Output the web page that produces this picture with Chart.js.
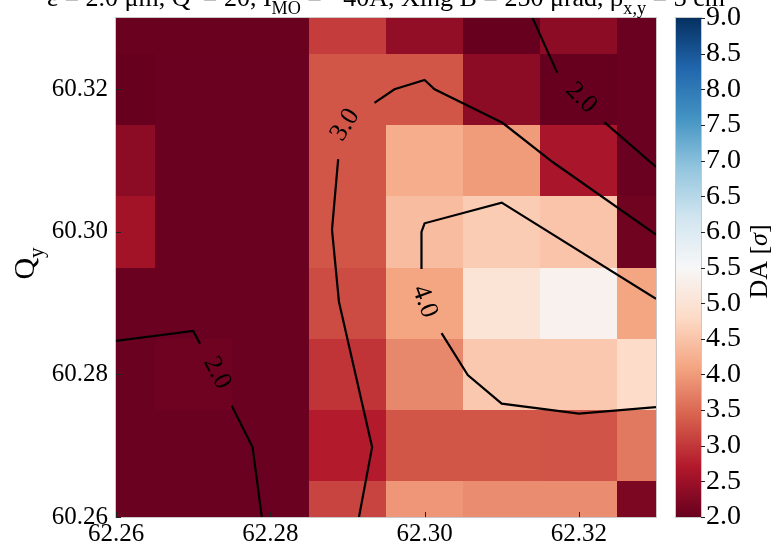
<!DOCTYPE html>
<html>
<head>
<meta charset="utf-8">
<script src="https://cdn.jsdelivr.net/npm/chart.js@4.4.1/dist/chart.umd.min.js"></script>
<style>
  html, body { margin: 0; padding: 0; background: #fff; }
  #wrap { width: 776px; height: 544px; }
</style>
</head>
<body>
<div id="wrap"><canvas id="myChart" width="776" height="544"></canvas></div>
<script>
const qx = [62.26, 62.27, 62.28, 62.29, 62.30, 62.31, 62.32, 62.33];
const qy = [60.26, 60.27, 60.28, 60.29, 60.30, 60.31, 60.32, 60.33];

// DA [sigma], one row per qy (bottom to top), one value per qx
const da = [
  [2.04, 2.04, 2.04, 3.13, 3.95, 3.85, 3.85, 2.20],
  [2.04, 2.04, 2.04, 2.72, 3.30, 3.30, 3.28, 3.65],
  [2.04, 2.07, 2.04, 2.97, 3.80, 4.55, 4.55, 4.85],
  [2.04, 2.04, 2.04, 3.20, 4.10, 5.00, 5.35, 4.10],
  [2.55, 2.04, 2.04, 3.30, 4.40, 4.60, 4.50, 2.08],
  [2.35, 2.04, 2.04, 3.30, 4.20, 4.00, 2.62, 2.04],
  [2.00, 2.04, 2.04, 3.30, 3.30, 2.35, 2.00, 2.04],
  [2.02, 2.02, 2.02, 3.05, 2.40, 2.00, 2.35, 2.04]
];

const xTicks = [62.26, 62.28, 62.30, 62.32];
const yTicks = [60.26, 60.28, 60.30, 60.32];
const cbTicks = [2.0, 2.5, 3.0, 3.5, 4.0, 4.5, 5.0, 5.5, 6.0, 6.5, 7.0, 7.5, 8.0, 8.5, 9.0];

// contour lines [Qx, Qy], split where the inline labels sit
const c2LeftA = [[62.26, 60.2847], [62.2700, 60.2861], [62.2709, 60.2843]];
const c2LeftB = [[62.2750, 60.2756], [62.2777, 60.2698], [62.2789, 60.26]];
const c2RightA = [[62.3140, 60.33], [62.3172, 60.3223]];
const c2RightB = [[62.3233, 60.3154], [62.33, 60.3091]];
const c3A = [[62.2915, 60.26], [62.2932, 60.2698], [62.2889, 60.2902], [62.2880, 60.3003], [62.2888, 60.3102]];
const c3B = [[62.2935, 60.3181], [62.2961, 60.3200], [62.3000, 60.3213], [62.3013, 60.3200], [62.3101, 60.3153], [62.3166, 60.3098], [62.33, 60.2996]];
const c4A = [[62.2996, 60.2948], [62.2996, 60.3000], [62.3000, 60.3012], [62.3100, 60.3041], [62.33, 60.2906]];
const c4B = [[62.3022, 60.2858], [62.3056, 60.2799], [62.3100, 60.2759], [62.3200, 60.2745], [62.33, 60.2754]];

const labelLevels = [3.0, 2.0, 2.0, 4.0];
const labelX = [62.2897, 62.2731, 62.3203, 62.3000];
const labelY = [60.3150, 60.2802, 60.3188, 60.2902];
const labelAngle = [-58, 63, 45, 70];

const serif = '"Liberation Serif", "DejaVu Serif", serif';
const rdbuStops = ['#67001f', '#b2182b', '#d6604d', '#f4a582', '#fddbc7', '#f7f7f7',
                   '#d1e5f0', '#92c5de', '#4393c3', '#2166ac', '#053061'];

function hex(c) {
  return [parseInt(c.slice(1, 3), 16), parseInt(c.slice(3, 5), 16), parseInt(c.slice(5, 7), 16)];
}

function rdbu(t) {
  t = Math.max(0, Math.min(1, t)) * 10;
  const i = Math.min(9, Math.floor(t));
  const f = t - i;
  const a = hex(rdbuStops[i]), b = hex(rdbuStops[i + 1]);
  const c = a.map((v, k) => Math.round(v + (b[k] - v) * f));
  return 'rgb(' + c.join(',') + ')';
}

// draw text pieces, some as subscripts, starting at x on baseline y
function drawRich(ctx, parts, x, y, size, align) {
  const w = parts.map(p => {
    ctx.font = (p.it ? 'italic ' : '') + (p.sub ? size * 0.7 : size) + 'px ' + serif;
    return ctx.measureText(p.t).width;
  });
  const total = w.reduce((s, v) => s + v, 0);
  let cx = align === 'center' ? x - total / 2 : x;
  parts.forEach((p, k) => {
    ctx.font = (p.it ? 'italic ' : '') + (p.sub ? size * 0.7 : size) + 'px ' + serif;
    ctx.fillText(p.t, cx, p.sub ? y + size * 0.3 : y);
    cx += w[k];
  });
}

const heatmap = {
  id: 'heatmap',
  beforeDatasetsDraw(chart) {
    const {ctx, chartArea: a, scales: {x, y}} = chart;
    ctx.save();
    ctx.beginPath();
    ctx.rect(a.left, a.top, a.right - a.left, a.bottom - a.top);
    ctx.clip();
    for (let j = 0; j < qy.length; j++) {
      for (let i = 0; i < qx.length; i++) {
        const x0 = Math.round(x.getPixelForValue(qx[i] - 0.005));
        const x1 = Math.round(x.getPixelForValue(qx[i] + 0.005));
        const y0 = Math.round(y.getPixelForValue(qy[j] + 0.005));
        const y1 = Math.round(y.getPixelForValue(qy[j] - 0.005));
        ctx.fillStyle = rdbu((da[j][i] - 2) / 7);
        ctx.fillRect(x0, y0, x1 - x0, y1 - y0);
      }
    }
    ctx.restore();
  },
  afterDatasetsDraw(chart) {
    const {ctx, scales: {x, y}} = chart;
    ctx.save();
    ctx.fillStyle = '#000';
    ctx.font = '26px ' + serif;
    ctx.textAlign = 'center';
    ctx.textBaseline = 'middle';
    labelLevels.forEach((lv, k) => {
      ctx.save();
      ctx.translate(x.getPixelForValue(labelX[k]), y.getPixelForValue(labelY[k]));
      ctx.rotate(labelAngle[k] * Math.PI / 180);
      ctx.fillText(lv.toFixed(1), 0, 0);
      ctx.restore();
    });
    ctx.restore();
  },
  afterDraw(chart) {
    const {ctx, chartArea: a, scales: {x, y, cb}} = chart;
    ctx.save();
    // frame
    ctx.strokeStyle = '#c8c8c8';
    ctx.lineWidth = 1;
    ctx.strokeRect(a.left - 0.5, a.top - 0.5, a.right - a.left + 1, a.bottom - a.top + 1);
    // inward ticks
    ctx.strokeStyle = '#222';
    ctx.beginPath();
    xTicks.forEach(v => {
      const px = Math.round(x.getPixelForValue(v)) + 0.5;
      ctx.moveTo(px, a.bottom); ctx.lineTo(px, a.bottom - 5);
    });
    yTicks.forEach(v => {
      const py = Math.round(y.getPixelForValue(v)) + 0.5;
      ctx.moveTo(a.left, py); ctx.lineTo(a.left + 5, py);
    });
    ctx.stroke();
    // colour bar
    const bx0 = a.right + 20, bx1 = a.right + 45;
    const top = cb.getPixelForValue(9), bot = cb.getPixelForValue(2);
    const g = ctx.createLinearGradient(0, bot, 0, top);
    rdbuStops.forEach((c, k) => g.addColorStop(k / 10, c));
    ctx.fillStyle = g;
    ctx.fillRect(bx0, top, bx1 - bx0, bot - top);
    ctx.strokeStyle = '#c8c8c8';
    ctx.strokeRect(bx0 - 0.5, top - 0.5, bx1 - bx0 + 1, bot - top + 1);
    ctx.strokeStyle = '#222';
    ctx.beginPath();
    cbTicks.forEach(v => {
      const py = Math.round(cb.getPixelForValue(v)) + 0.5;
      ctx.moveTo(bx1, py); ctx.lineTo(bx1 + 4, py);
    });
    ctx.stroke();
    // colour bar label
    ctx.fillStyle = '#000';
    ctx.textBaseline = 'alphabetic';
    ctx.save();
    ctx.translate(767, (top + bot) / 2 - 6);
    ctx.rotate(-Math.PI / 2);
    drawRich(ctx, [{t: 'DA ['}, {t: 'σ', it: true}, {t: ']'}], 0, 0, 26, 'center');
    ctx.restore();
    // y title
    ctx.save();
    ctx.translate(34, (a.top + a.bottom) / 2 - 4);
    ctx.rotate(-Math.PI / 2);
    drawRich(ctx, [{t: 'Q'}, {t: 'y', sub: true}], 0, 0, 30, 'center');
    ctx.restore();
    // title, mostly above the canvas
    drawRich(ctx, [
      {t: 'ε = 2.0 μm, Q′ = 20, I'}, {t: 'MO', sub: true},
      {t: ' = −40A, Xing B = 250 μrad, β'}, {t: 'x,y', sub: true}, {t: ' = 3 cm'}
    ], (a.left + a.right) / 2, 6, 26, 'center');
    ctx.restore();
  }
};

const tickFont = {family: serif, size: 25};

new Chart(document.getElementById('myChart'), {
  type: 'scatter',
  data: {
    datasets: [c2LeftA, c2LeftB, c2RightA, c2RightB, c3A, c3B, c4A, c4B].map(p => ({
      data: p.map(([px, py]) => ({x: px, y: py})),
      showLine: true,
      borderColor: '#000',
      borderWidth: 2.2,
      pointRadius: 0,
      fill: false
    }))
  },
  options: {
    responsive: false,
    animation: false,
    devicePixelRatio: 1,
    layout: {padding: {top: 18, left: 0, right: 0, bottom: 0}},
    plugins: {legend: {display: false}, tooltip: {enabled: false}},
    scales: {
      x: {
        type: 'linear', min: 62.26, max: 62.33,
        grid: {display: false, drawTicks: false},
        border: {display: false},
        ticks: {font: tickFont, color: '#000', padding: 2, maxRotation: 0, autoSkip: false,
                callback: v => v.toFixed(2)},
        afterBuildTicks: s => { s.ticks = xTicks.map(v => ({value: v})); },
        afterFit: s => { s.height = 27; }
      },
      y: {
        type: 'linear', min: 60.26, max: 60.33,
        grid: {display: false, drawTicks: false},
        border: {display: false},
        ticks: {font: tickFont, color: '#000', padding: 8, autoSkip: false,
                callback: v => v.toFixed(2)},
        afterBuildTicks: s => { s.ticks = yTicks.map(v => ({value: v})); },
        afterFit: s => { s.width = 116; s.paddingTop = 0; s.paddingBottom = 0; }
      },
      cb: {
        type: 'linear', position: 'right', min: 2, max: 9,
        grid: {display: true, drawOnChartArea: false, drawTicks: true, tickLength: 48,
               tickColor: 'rgba(0,0,0,0)'},
        border: {display: false},
        ticks: {font: {family: serif, size: 28}, color: '#000', padding: 2, autoSkip: false,
                callback: v => v.toFixed(1)},
        afterBuildTicks: s => { s.ticks = cbTicks.map(v => ({value: v})); },
        afterFit: s => { s.width = 120; s.paddingTop = 0; s.paddingBottom = 0; }
      }
    }
  },
  plugins: [heatmap]
});
</script>
</body>
</html>
